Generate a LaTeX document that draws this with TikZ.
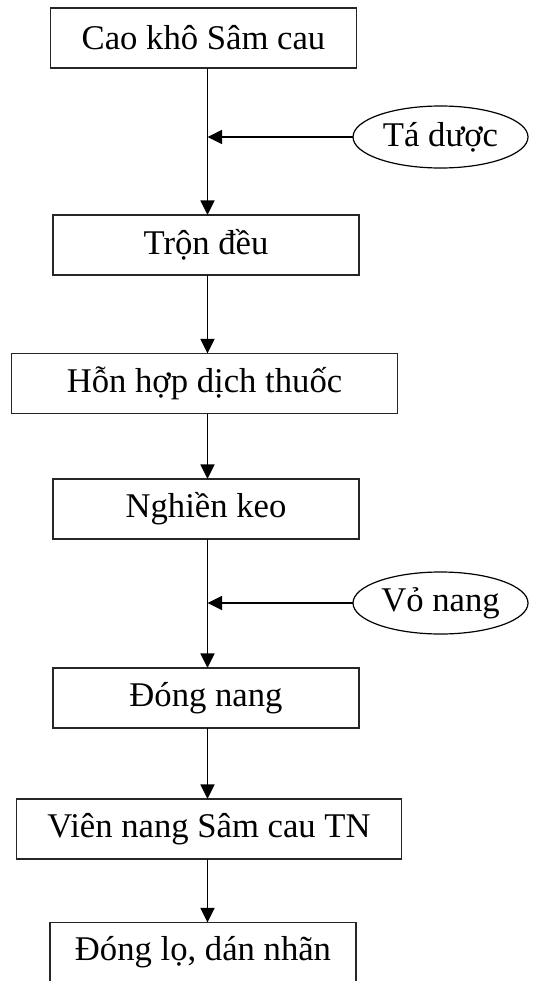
\documentclass[tikz,border=0pt]{standalone}
\usepackage{fontspec}
\setmainfont{Liberation Serif}
\usetikzlibrary{arrows.meta,shapes.geometric}
\begin{document}
\begin{tikzpicture}[x=0.75pt,y=-0.75pt,
  stepbox/.style={draw=black!85,line width=0.9pt,rectangle,inner sep=0pt,outer sep=0pt,
    minimum height=45pt,font=\fontsize{26}{30}\selectfont},
  narrow/.style={stepbox,minimum width=229.5pt},
  wide/.style={stepbox,minimum width=289pt},
  input/.style={draw=black,line width=0.9pt,ellipse,inner sep=0pt,outer sep=0pt,
    minimum width=131.25pt,minimum height=46.5pt,font=\fontsize{26}{30}\selectfont},
  flow/.style={line width=1.3pt,-{Triangle[length=11pt,width=10.5pt]}}]
  \useasboundingbox (0,0) rectangle (534,981);
  \clip (0,0) rectangle (534,981);
  \fill[white] (0,0) rectangle (534,981);

  % vertical process line
  \coordinate (spine) at (207.5,0);

  % process steps
  \node[narrow] (b1) at (203.5,38)  {Cao khô Sâm cau};
  \node[narrow] (b2) at (206,245)   {Trộn đều};
  \node[wide]   (b3) at (204.5,383.5) {Hỗn hợp dịch thuốc};
  \node[narrow] (b4) at (206,509)   {Nghiền keo};
  \node[narrow] (b5) at (206,698)   {Đóng nang};
  \node[wide]   (b6) at (209,829)   {Viên nang Sâm cau TN};
  \node[narrow] (b7) at (203,952.5) {Đóng lọ, dán nhãn};

  % added materials
  \node[input] (e1) at (440.5,137) {Tá dược};
  \node[input] (e2) at (440.5,603) {Vỏ nang};

  % connectors
  \draw[flow] (b1.south -| spine) -- (b2.north -| spine);
  \draw[flow] (b2.south -| spine) -- (b3.north -| spine);
  \draw[flow] (b3.south -| spine) -- (b4.north -| spine);
  \draw[flow] (b4.south -| spine) -- (b5.north -| spine);
  \draw[flow] (b5.south -| spine) -- (b6.north -| spine);
  \draw[flow] (b6.south -| spine) -- (b7.north -| spine);
  \draw[flow] (e1.west) -- (e1.west -| spine);
  \draw[flow] (e2.west) -- (e2.west -| spine);
\end{tikzpicture}
\end{document}
